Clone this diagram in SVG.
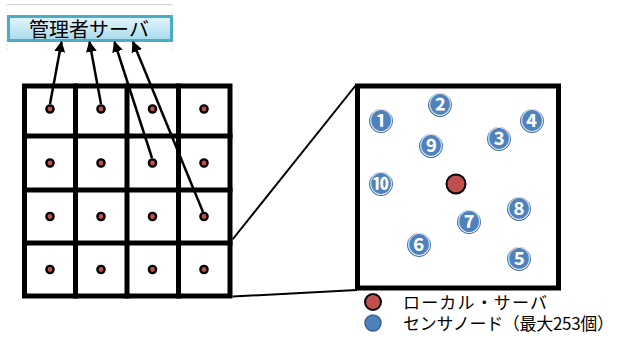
<svg xmlns="http://www.w3.org/2000/svg" width="618" height="338" viewBox="0 0 618 338">
<defs>
<linearGradient id="boxg" x1="0" y1="0" x2="0" y2="1">
<stop offset="0" stop-color="#e6f5fb"/>
<stop offset="1" stop-color="#a6dbee"/>
</linearGradient>
<marker id="ah" viewBox="0 0 10 10" refX="9" refY="5" markerWidth="4.4" markerHeight="4.4" orient="auto" markerUnits="strokeWidth">
<path d="M0,0 L10,5 L0,10 Z" fill="#000"/>
</marker>
</defs>
<style>
.jp{font-family:"Noto Sans CJK JP","Liberation Sans",sans-serif;}
.grid{stroke:#000;stroke-width:5;fill:none;stroke-linecap:square;}
.dot{fill:#c0504d;stroke:#000;stroke-width:2.4;}
.arrow{stroke:#000;stroke-width:2.5;fill:none;marker-end:url(#ah);}
.conn{stroke:#000;stroke-width:2;fill:none;}
.sensor circle{fill:#4f81bd;stroke:#3a6496;stroke-width:1;}
.sensor text{fill:#fff;font-size:23px;font-weight:bold;text-anchor:middle;}
.legend{font-size:17px;fill:#000;}
</style>
<g id="artifacts" stroke="#cfcfcf" stroke-width="1" fill="none">
<line x1="7" y1="4.5" x2="172" y2="4.5"/>
<line x1="7" y1="4.5" x2="7" y2="50" stroke-dasharray="1,3"/>
<line x1="172.5" y1="4.5" x2="172.5" y2="50" stroke-dasharray="1,3"/>
</g>
<g id="admin-server">
<rect x="8.5" y="16.5" width="163" height="24" fill="url(#boxg)" stroke="#4bacc6" stroke-width="3"/>
<text class="jp" x="89" y="37" font-size="20" text-anchor="middle" fill="#000">管理者サーバ</text>
</g>
<g id="grid">
<rect class="grid" x="24.5" y="86" width="205.5" height="210"/>
<line class="grid" x1="75.5" y1="86" x2="75.5" y2="296"/>
<line class="grid" x1="127" y1="86" x2="127" y2="296"/>
<line class="grid" x1="178.5" y1="86" x2="178.5" y2="296"/>
<line class="grid" x1="24.5" y1="136" x2="230" y2="136"/>
<line class="grid" x1="24.5" y1="190" x2="230" y2="190"/>
<line class="grid" x1="24.5" y1="243" x2="230" y2="243"/>
</g>
<g id="local-servers">
<circle class="dot" cx="50" cy="109" r="3.6"/><circle class="dot" cx="101" cy="109" r="3.6"/><circle class="dot" cx="152.5" cy="109" r="3.6"/><circle class="dot" cx="204" cy="109" r="3.6"/>
<circle class="dot" cx="50" cy="163" r="3.6"/><circle class="dot" cx="101" cy="163" r="3.6"/><circle class="dot" cx="152.5" cy="163" r="3.6"/><circle class="dot" cx="204" cy="163" r="3.6"/>
<circle class="dot" cx="50" cy="216.5" r="3.6"/><circle class="dot" cx="101" cy="216.5" r="3.6"/><circle class="dot" cx="152.5" cy="216.5" r="3.6"/><circle class="dot" cx="204" cy="216.5" r="3.6"/>
<circle class="dot" cx="50" cy="269.5" r="3.6"/><circle class="dot" cx="101" cy="269.5" r="3.6"/><circle class="dot" cx="152.5" cy="269.5" r="3.6"/><circle class="dot" cx="204" cy="269.5" r="3.6"/>
</g>
<g id="connectors">
<line class="arrow" x1="50" y1="104" x2="61.5" y2="42"/>
<line class="arrow" x1="101" y1="104" x2="89.5" y2="42"/>
<line class="arrow" x1="152" y1="158" x2="114.5" y2="42"/>
<line class="arrow" x1="203" y1="212" x2="133" y2="42"/>
<line class="conn" x1="232.5" y1="239.5" x2="356" y2="85"/>
<line class="conn" x1="232.5" y1="296.5" x2="357" y2="290"/>
</g>
<g id="cell-detail">
<rect x="357.5" y="86" width="201" height="202" fill="#fff" stroke="#000" stroke-width="5"/>
<circle cx="456" cy="184" r="9.5" fill="#c0504d" stroke="#000" stroke-width="2"/>
</g>
<g id="sensors" class="jp">
<g class="sensor" id="s1"><circle cx="381" cy="121" r="11.5"/><text x="381" y="129">①</text></g>
<g class="sensor" id="s2"><circle cx="440" cy="105" r="11.5"/><text x="440" y="113">②</text></g>
<g class="sensor" id="s3"><circle cx="499" cy="139" r="11.5"/><text x="499" y="147">③</text></g>
<g class="sensor" id="s4"><circle cx="532" cy="121" r="11.5"/><text x="532" y="129">④</text></g>
<g class="sensor" id="s5"><circle cx="519" cy="259" r="11.5"/><text x="519" y="267">⑤</text></g>
<g class="sensor" id="s6"><circle cx="419" cy="245" r="11.5"/><text x="419" y="253">⑥</text></g>
<g class="sensor" id="s7"><circle cx="469" cy="222" r="11.5"/><text x="469" y="230">⑦</text></g>
<g class="sensor" id="s8"><circle cx="519" cy="209" r="11.5"/><text x="519" y="217">⑧</text></g>
<g class="sensor" id="s9"><circle cx="431" cy="146" r="11.5"/><text x="431" y="154">⑨</text></g>
<g class="sensor" id="s10"><circle cx="381" cy="184" r="11.5"/><text x="381" y="192">⑩</text></g>
</g>
<g id="legend">
<circle cx="373" cy="302" r="8" fill="#c0504d" stroke="#000" stroke-width="2"/>
<text class="jp legend" x="403" y="309" textLength="144" lengthAdjust="spacing">ローカル・サーバ</text>
<circle cx="373" cy="323" r="8" fill="#4f81bd" stroke="#3a6496" stroke-width="1.5"/>
<text class="jp legend" x="403" y="330" textLength="211" lengthAdjust="spacing">センサノード（最大253個）</text>
</g>
</svg>
